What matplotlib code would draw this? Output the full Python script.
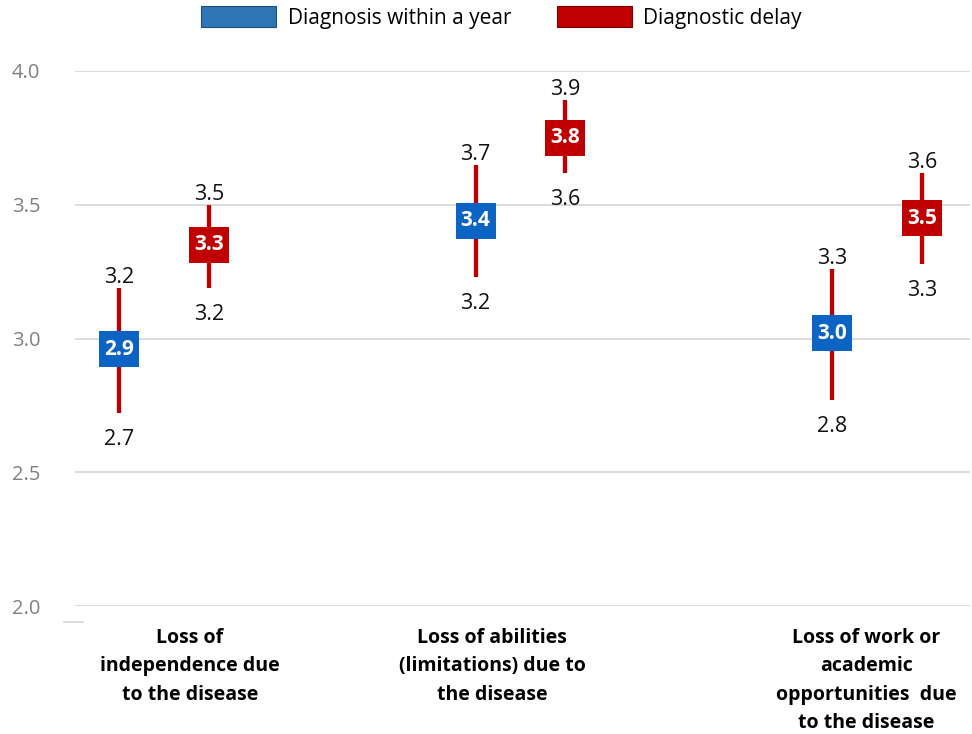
import matplotlib
matplotlib.use("Agg")
import matplotlib.pyplot as plt
import matplotlib.transforms as mtransforms
from matplotlib.patches import Patch, Rectangle
from matplotlib.lines import Line2D

plt.rcParams['font.family'] = ['Open Sans', 'DejaVu Sans']

categories = ["Loss of\nindependence due\nto the disease",
              "Loss of abilities\n(limitations) due to\nthe disease",
              "Loss of work or\nacademic\nopportunities  due\nto the disease"]
series_names = ["Diagnosis within a year", "Diagnostic delay"]

within_mean = [2.96, 3.44, 3.02]
within_low = [2.72, 3.23, 2.77]
within_high = [3.19, 3.65, 3.26]
within_mean_lbl = ["2.9", "3.4", "3.0"]
within_low_lbl = ["2.7", "3.2", "2.8"]
within_high_lbl = ["3.2", "3.7", "3.3"]

delay_mean = [3.35, 3.75, 3.45]
delay_low = [3.19, 3.62, 3.28]
delay_high = [3.50, 3.89, 3.62]
delay_mean_lbl = ["3.3", "3.8", "3.5"]
delay_low_lbl = ["3.2", "3.6", "3.3"]
delay_high_lbl = ["3.5", "3.9", "3.6"]

yticks = [2.0, 2.5, 3.0, 3.5, 4.0]

BLUE = "#0B63C4"
BLUE_LEG = "#2E75B6"
RED = "#C00000"

fig = plt.figure(figsize=(9.72, 7.34), dpi=100)
ax = fig.add_axes([75/972, 1-606/734, 895/972, 535/734])
ax.set_ylim(2.0, 4.0)
ax.set_xlim(-0.2496, 2.261)
for s in ax.spines.values():
    s.set_visible(False)
ax.set_yticks(yticks)
ax.set_yticklabels([f"{v:.1f}" for v in yticks])
ax.tick_params(axis='y', length=0, pad=25, labelsize=14.5, labelcolor="#808080")
ax.set_xticks([])
ax.grid(axis='y', color="#D9D9D9", linewidth=1.3)
ax.set_axisbelow(True)

off = 0.126
box_w = 0.112
box_h = 0.134
groups = [
    (-off, within_mean, within_low, within_high, within_mean_lbl, within_low_lbl, within_high_lbl, BLUE),
    (off, delay_mean, delay_low, delay_high, delay_mean_lbl, delay_low_lbl, delay_high_lbl, RED),
]
for dx, m, lo, hi, ml, ll, hl, col in groups:
    for i in range(len(categories)):
        x = i + dx
        ax.plot([x, x], [lo[i], hi[i]], color=RED, lw=3.1, solid_capstyle='butt', zorder=3, clip_on=False)
        ax.add_patch(Rectangle((x - box_w/2, m[i] - box_h/2), box_w, box_h, facecolor=col,
                               edgecolor='none', zorder=4, clip_on=False))
        ax.text(x, m[i], ml[i], color='white', fontsize=15, fontweight='bold', ha='center', va='center', zorder=5)
        ax.annotate(hl[i], (x, hi[i]), xytext=(0, 0), textcoords='offset points', ha='center', va='bottom',
                    fontsize=15.5, color='#111111')
        ax.annotate(ll[i], (x, lo[i]), xytext=(0, -11.5), textcoords='offset points', ha='center', va='top',
                    fontsize=15.5, color='#111111')

label_shift = [0.073, -0.08, -0.03]
trans = mtransforms.blended_transform_factory(ax.transData, fig.transFigure)
for i, c in enumerate(categories):
    ax.text(i + label_shift[i], 1 - 628/734, c, transform=trans, ha='center', va='top', fontsize=14,
            fontweight='bold', color='black', linespacing=1.56)

fig.add_artist(Line2D([64/972, 83/972], [1-622/734, 1-622/734], color="#D9D9D9", lw=1.3))

handles = [Patch(facecolor=BLUE_LEG, edgecolor="#1F4E79", lw=0.8, label=series_names[0]),
           Patch(facecolor=RED, edgecolor="#7F0000", lw=0.8, label=series_names[1])]
fig.legend(handles=handles, loc='upper center', bbox_to_anchor=(0.516, 1.017), ncol=2, frameon=False,
           fontsize=15, handlelength=3.6, handleheight=1.15, columnspacing=2.2, handletextpad=0.55)

fig.savefig("out.png", dpi=100)
